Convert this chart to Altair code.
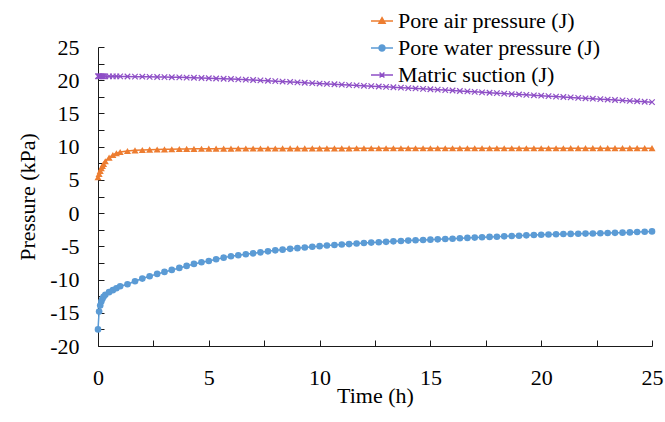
import altair as alt
import pandas as pd

# ---------------- data ----------------
time_h = [0, 0.05, 0.1, 0.15, 0.2, 0.25, 0.33, 0.5, 0.67, 0.83,
          1.0, 1.33, 1.67, 2.0, 2.33, 2.67, 3.0, 3.33, 3.67, 4.0, 4.33, 4.67,
          5.0, 5.33, 5.67, 6.0, 6.33, 6.67, 7.0, 7.33, 7.67, 8.0, 8.33, 8.67,
          9.0, 9.33, 9.67, 10.0, 10.33, 10.67, 11.0, 11.33, 11.67, 12.0, 12.33, 12.67,
          13.0, 13.33, 13.67, 14.0, 14.33, 14.67, 15.0, 15.33, 15.67, 16.0, 16.33, 16.67,
          17.0, 17.33, 17.67, 18.0, 18.33, 18.67, 19.0, 19.33, 19.67, 20.0, 20.33, 20.67,
          21.0, 21.33, 21.67, 22.0, 22.33, 22.67, 23.0, 23.33, 23.67, 24.0, 24.33, 24.67,
          25.0]

pore_air = [5.4, 5.9, 6.35, 6.75, 7.1, 7.4, 7.8, 8.35, 8.75, 9.0,
            9.2, 9.35, 9.45, 9.5, 9.55, 9.58, 9.6, 9.62, 9.64, 9.66, 9.67, 9.68,
            9.7, 9.7, 9.71, 9.71, 9.72, 9.72, 9.72, 9.73, 9.73, 9.73, 9.74, 9.74,
            9.74, 9.74, 9.75, 9.75, 9.75, 9.75, 9.75, 9.75, 9.76, 9.76, 9.76, 9.76,
            9.76, 9.76, 9.76, 9.76, 9.76, 9.76, 9.76, 9.76, 9.76, 9.77, 9.77, 9.77,
            9.77, 9.77, 9.77, 9.77, 9.77, 9.77, 9.77, 9.77, 9.77, 9.77, 9.77, 9.77,
            9.77, 9.78, 9.78, 9.78, 9.78, 9.78, 9.78, 9.78, 9.78, 9.78, 9.78, 9.78,
            9.78]

pore_water = [-17.5, -14.8, -13.9, -13.3, -12.9, -12.6, -12.3, -11.9, -11.6, -11.3,
              -11.0, -10.7, -10.25, -9.85, -9.5, -9.15, -8.85, -8.55, -8.25, -7.95, -7.65, -7.4,
              -7.2, -6.95, -6.7, -6.5, -6.35, -6.2, -6.05, -5.9, -5.75, -5.6, -5.5, -5.38,
              -5.27, -5.17, -5.07, -4.97, -4.88, -4.8, -4.73, -4.66, -4.58, -4.5, -4.44, -4.38,
              -4.32, -4.25, -4.19, -4.14, -4.09, -4.05, -4.0, -3.95, -3.9, -3.85, -3.79, -3.73,
              -3.68, -3.63, -3.58, -3.55, -3.5, -3.45, -3.4, -3.35, -3.3, -3.26, -3.22, -3.18,
              -3.15, -3.13, -3.1, -3.08, -3.06, -3.03, -3.0, -2.97, -2.94, -2.9, -2.85, -2.8,
              -2.75]

matric_suction = [20.6, 20.6, 20.6, 20.6, 20.6, 20.6, 20.59, 20.59, 20.58, 20.58,
                  20.57, 20.56, 20.54, 20.53, 20.51, 20.49, 20.47, 20.45, 20.43, 20.40, 20.37, 20.34,
                  20.30, 20.26, 20.22, 20.18, 20.13, 20.08, 20.03, 19.97, 19.92, 19.86, 19.80, 19.74,
                  19.68, 19.62, 19.56, 19.50, 19.44, 19.39, 19.33, 19.27, 19.22, 19.16, 19.11, 19.05,
                  19.00, 18.94, 18.88, 18.82, 18.76, 18.70, 18.64, 18.58, 18.51, 18.45, 18.38, 18.32,
                  18.25, 18.18, 18.12, 18.05, 17.99, 17.92, 17.86, 17.80, 17.73, 17.67, 17.60, 17.54,
                  17.47, 17.41, 17.34, 17.28, 17.22, 17.15, 17.09, 17.02, 16.96, 16.89, 16.83, 16.76,
                  16.70]

series_names = ["Pore air pressure (J)", "Pore water pressure (J)", "Matric suction (J)"]
series_colors = ["#ED7D31", "#5B9BD5", "#8E4FC6"]

x_ticks = [0, 2.5, 5, 7.5, 10, 12.5, 15, 17.5, 20, 22.5, 25]
y_ticks = [-20, -17.5, -15, -12.5, -10, -7.5, -5, -2.5, 0, 2.5, 5, 7.5,
           10, 12.5, 15, 17.5, 20, 22.5, 25]

# ---------------- table ----------------
rows = []
for name, vals in zip(series_names, [pore_air, pore_water, matric_suction]):
    for t, v in zip(time_h, vals):
        rows.append({"time": t, "value": v, "series": name})
df = pd.DataFrame(rows)

FONT = "Liberation Serif"
LFONT = "Liberation Serif, serif"
AXC = "#1a1a1a"
LABEL_EXPR = "datum.value % 5 == 0 ? toString(datum.value) : ''"

x_enc = alt.X(
    "time:Q",
    scale=alt.Scale(domain=[0, 25], nice=False, zero=False),
    axis=alt.Axis(
        values=x_ticks, labelExpr=LABEL_EXPR, tickSize=alt.ExprRef(expr="-6"),
        labelPadding=27, labelFlush=False, labelOverlap=False, grid=False,
        labelFont=LFONT, labelFontSize=22, titleFont=FONT, titleFontSize=22,
        title="Time (h)", titleX=277, titleY=49, titleBaseline="middle",
        titleAlign="center",
    ),
)
y_enc = alt.Y(
    "value:Q",
    scale=alt.Scale(domain=[-20, 25], nice=False, zero=False),
    axis=alt.Axis(
        values=y_ticks, labelExpr=LABEL_EXPR, tickSize=alt.ExprRef(expr="-6"),
        labelPadding=25, labelFlush=False, labelOverlap=False, grid=False,
        labelFont=LFONT, labelFontSize=22, titleFont=FONT, titleFontSize=22,
        title="Pressure (kPa)", titleX=-71, titleY=149.5, titleBaseline="middle",
        titleAlign="center", titleAngle=-90,
    ),
)

base = alt.Chart(df).encode(x=x_enc, y=y_enc)

marker_shapes = ["triangle-up", "circle", "M-1,-1L1,1M-1,1L1,-1"]
marker_sizes = [50, 44, 30]
legend_paths = [
    "M-1,0H1M0,-0.3L0.28,0.2H-0.28Z",
    "M-1,0H1M0.27,0A0.27,0.27,0,1,1,-0.27,0A0.27,0.27,0,1,1,0.27,0Z",
    "M-1,0H1M-0.22,-0.22L0.22,0.22M-0.22,0.22L0.22,-0.22",
]

layers = []
for name, color in zip(series_names, series_colors):
    layers.append(
        base.transform_filter(alt.datum.series == name)
        .mark_line(color=color, strokeWidth=1.5)
    )
for name, color, shp, sz in zip(series_names, series_colors, marker_shapes, marker_sizes):
    sub = base.transform_filter(alt.datum.series == name)
    if shp.startswith("M"):
        layers.append(sub.mark_point(shape=shp, filled=False, color=color,
                                     strokeWidth=1.2, size=sz, opacity=1))
    else:
        layers.append(sub.mark_point(shape=shp, filled=True, color=color,
                                     size=sz, opacity=1))

legend = alt.Legend(
    title=None, orient="none", legendX=272, legendY=-38,
    labelFont=LFONT, labelFontSize=22, labelColor="#000000", labelLimit=400,
    symbolSize=484, symbolStrokeWidth=1.5, rowPadding=4, labelOffset=4,
    padding=0,
)
legend_layer = (
    alt.Chart(df)
    .transform_filter("false")
    .mark_point(filled=True, strokeWidth=1.5, opacity=1)
    .encode(
        x=x_enc, y=y_enc,
        fill=alt.Fill("series:N", scale=alt.Scale(domain=series_names, range=series_colors),
                      legend=legend, sort=series_names),
        stroke=alt.Stroke("series:N", scale=alt.Scale(domain=series_names, range=series_colors),
                          legend=legend, sort=series_names),
        shape=alt.Shape("series:N", scale=alt.Scale(domain=series_names, range=legend_paths),
                        legend=legend, sort=series_names),
    )
)
layers.append(legend_layer)

chart = (
    alt.layer(*layers)
    .properties(
        width=554, height=299,
        autosize=alt.AutoSizeParams(type="none"),
        padding={"left": 98, "top": 47, "right": 13, "bottom": 76},
        background="white",
    )
    .configure(font=FONT, style={"guide-label": {"font": LFONT, "fontSize": 22},
                                 "guide-title": {"font": FONT, "fontSize": 22}})
    .configure_view(stroke=None)
    .configure_axis(
        domainColor=AXC, tickColor=AXC, domainWidth=1, tickWidth=1,
        labelFont=LFONT, labelFontSize=22, labelColor="#000000",
        titleFont=FONT, titleFontSize=22, titleFontWeight="normal", titleColor="#000000",
    )
    .configure_legend(labelFont=LFONT, labelFontSize=22, labelColor="#000000")
)

chart.save("out.html", embed_options={"renderer": "svg", "actions": False})
